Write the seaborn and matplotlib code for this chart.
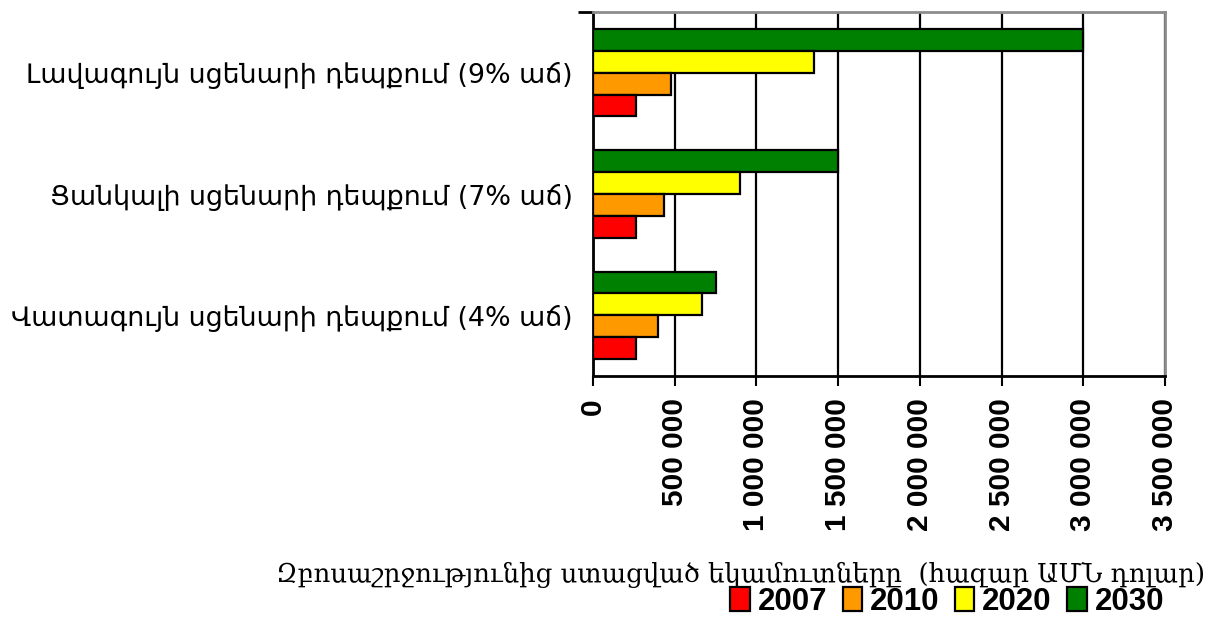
import matplotlib
matplotlib.use("Agg")
import matplotlib.pyplot as plt
from matplotlib.patches import Patch
import seaborn as sns
import pandas as pd

# Scenario labels (top to bottom) and yearly tourism revenue, thousand USD
scenarios = [
    "Լավագույն սցենարի դեպքում (9% աճ)",
    "Ցանկալի սցենարի դեպքում (7% աճ)",
    "Վատագույն սցենարի դեպքում (4% աճ)",
]
years = ["2007", "2010", "2020", "2030"]
rev_2007 = [265000, 265000, 265000]
rev_2010 = [475000, 435000, 400000]
rev_2020 = [1350000, 900000, 670000]
rev_2030 = [3000000, 1500000, 750000]
year_colors = {"2007": "#FF0000", "2010": "#FF9900", "2020": "#FFFF00", "2030": "#008000"}
x_ticks = [0, 500000, 1000000, 1500000, 2000000, 2500000, 3000000, 3500000]
x_title = "Զբոսաշրջությունից ստացված եկամուտները  (հազար ԱՄՆ դոլար)"

series = {"2007": rev_2007, "2010": rev_2010, "2020": rev_2020, "2030": rev_2030}
rows = []
for yr in years:
    for sc, v in zip(scenarios, series[yr]):
        rows.append({"scenario": sc, "year": yr, "value": v})
df = pd.DataFrame(rows)

sns.set_theme(style="white")
plt.rcParams["font.family"] = ["DejaVu Sans"]
plt.rcParams["text.color"] = "black"

fig = plt.figure(figsize=(12.16, 6.18), dpi=100)
ax = fig.add_axes([593 / 1216, 1 - 376 / 618, 572 / 1216, 364 / 618])

# 2030 drawn at the top of each group, 2007 at the bottom
draw_order = years[::-1]
sns.barplot(
    data=df, y="scenario", x="value", hue="year", order=scenarios,
    hue_order=draw_order, palette=year_colors, saturation=1, orient="h",
    width=0.72, edgecolor="black", linewidth=1.6, ax=ax, legend=False, zorder=3,
)

ax.set_xlim(0, 3500000)
tick_labels = [f"{v:,}".replace(",", " ") for v in x_ticks]
ax.set_xticks(x_ticks, labels=tick_labels, rotation=90, ha="center", va="top",
              fontweight="bold", fontsize=21.5, family=["Liberation Sans", "DejaVu Sans"])
ax.tick_params(axis="x", direction="out", length=7, width=1.5, color="black", pad=9,
               bottom=True, labelcolor="black")

ax.set_ylabel("")
ax.set_xlabel("")
ax.tick_params(axis="y", length=0, pad=14.5, labelsize=19.4, labelcolor="black")
# small tick at the top category boundary
ax.set_yticks([-0.5], minor=True)
ax.tick_params(axis="y", which="minor", length=11, width=2, color="black", left=True)

ax.grid(axis="x", color="black", linewidth=1.6, zorder=0)
ax.set_axisbelow(True)
for side in ["left", "bottom"]:
    ax.spines[side].set_color("black")
    ax.spines[side].set_linewidth(2)
for side in ["top", "right"]:
    ax.spines[side].set_visible(True)
    ax.spines[side].set_color("#8c8c8c")
    ax.spines[side].set_linewidth(2)
ax.spines["bottom"].set_zorder(5)

fig.text(1205 / 1216, 1 - 575 / 618, x_title, ha="right", va="center",
         fontsize=18.7, family=["DejaVu Serif", "DejaVu Sans"], color="black")

handles = [Patch(facecolor=year_colors[y], edgecolor="black", linewidth=1.6, label=y) for y in years]
fig.legend(
    handles=handles, ncol=4, loc="center right",
    bbox_to_anchor=(1164 / 1216, 1 - 602 / 618), frameon=False, labelcolor="black",
    prop={"family": ["Liberation Sans Narrow", "Liberation Sans"], "weight": "bold", "size": 22.5},
    handlelength=0.62, handleheight=0.8, handletextpad=0.25, columnspacing=0.5,
    borderaxespad=0, borderpad=0,
)

fig.savefig("out.png", dpi=100)
